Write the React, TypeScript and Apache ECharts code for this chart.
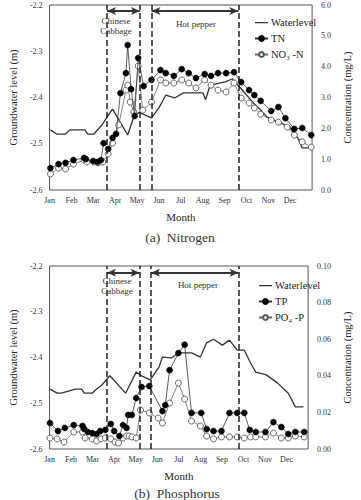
import React, { useEffect, useRef } from "react";
import * as echarts from "echarts";

const FONT = "'Liberation Serif', 'DejaVu Serif', serif";

const monthNames = ["Jan", "Feb", "Mar", "Apr", "May", "Jun", "Jul", "Aug", "Sep", "Oct", "Nov", "Dec"];

// ---- (a) Nitrogen panel: time in months from 1 Jan ----
const waterA_t = [0.04, 0.32, 0.73, 0.93, 1.62, 1.74, 2.03, 2.27, 2.43, 2.63, 2.88, 3.57, 3.85, 4.09, 4.66, 4.99, 5.31, 5.72, 6.12, 7.01, 7.13, 7.34, 8.03, 8.35, 8.72, 9.32, 9.65, 9.93, 10.46, 10.98, 11.35, 11.55, 11.96];
const waterA_v = [-2.47, -2.479, -2.479, -2.47, -2.47, -2.479, -2.479, -2.466, -2.457, -2.442, -2.425, -2.481, -2.442, -2.432, -2.444, -2.423, -2.395, -2.401, -2.39, -2.39, -2.405, -2.373, -2.366, -2.36, -2.379, -2.412, -2.427, -2.442, -2.453, -2.464, -2.488, -2.509, -2.509];

const tn_t = [0.04, 0.41, 0.73, 1.09, 1.58, 1.66, 1.99, 2.19, 2.35, 2.47, 2.68, 2.88, 3.04, 3.24, 3.49, 3.57, 3.73, 3.89, 4.05, 4.3, 4.66, 5.07, 5.31, 5.68, 6.04, 6.36, 6.69, 7.09, 7.38, 7.7, 8.07, 8.43, 8.76, 9.12, 9.36, 9.65, 10.13, 10.46, 10.78, 11.19, 11.55, 11.96];
const tn_v = [0.71, 0.84, 0.88, 0.97, 1.04, 1.0, 0.94, 0.91, 0.97, 1.52, 1.33, 1.69, 1.82, 3.14, 3.79, 4.7, 3.27, 2.4, 4.28, 3.37, 3.57, 3.89, 3.79, 3.7, 3.92, 3.79, 3.63, 3.76, 3.7, 3.79, 3.79, 3.82, 3.5, 3.24, 3.08, 2.89, 2.56, 2.69, 2.33, 1.98, 2.01, 1.78];

const no3_t = [0.04, 0.41, 0.73, 1.09, 1.58, 1.7, 2.03, 2.23, 2.43, 2.68, 2.88, 3.16, 3.49, 3.57, 3.69, 3.85, 4.05, 4.26, 4.66, 5.07, 5.31, 5.68, 6.04, 6.36, 6.69, 7.09, 7.38, 7.7, 8.07, 8.43, 8.76, 9.12, 9.36, 9.65, 10.13, 10.46, 10.86, 11.19, 11.55, 11.96];
const no3_v = [0.52, 0.71, 0.68, 0.84, 0.97, 0.91, 0.91, 0.88, 0.91, 1.17, 1.52, 2.11, 3.24, 3.4, 2.85, 2.53, 4.02, 2.59, 2.85, 3.57, 3.47, 3.47, 3.57, 3.47, 3.31, 3.57, 3.4, 3.24, 3.18, 3.47, 2.98, 2.82, 2.66, 2.46, 2.27, 2.2, 2.04, 1.78, 1.56, 1.39];

// crop periods (start / end, in months)
const cabbageA = [2.63, 4.13];
const pepperA = [4.66, 8.63];

// ---- (b) Phosphorus panel ----
const waterB_t = [0.02, 0.35, 0.55, 1.2, 1.49, 1.61, 1.98, 2.18, 2.43, 2.8, 3.53, 4.02, 4.27, 4.67, 5.08, 5.24, 5.65, 5.98, 6.59, 7.0, 7.29, 7.61, 8.02, 8.35, 8.71, 9.04, 9.33, 9.57, 10.06, 10.59, 11.08, 11.41, 11.78];
const waterB_v = [-2.469, -2.478, -2.478, -2.469, -2.469, -2.478, -2.478, -2.469, -2.46, -2.44, -2.478, -2.432, -2.44, -2.449, -2.421, -2.399, -2.401, -2.39, -2.39, -2.399, -2.368, -2.36, -2.373, -2.362, -2.384, -2.384, -2.412, -2.432, -2.438, -2.456, -2.478, -2.508, -2.508];

const tp_t = [0.02, 0.39, 0.71, 1.12, 1.53, 1.61, 1.78, 1.98, 2.18, 2.35, 2.59, 2.84, 3.0, 3.24, 3.41, 3.57, 3.65, 3.82, 4.02, 4.27, 4.63, 5.24, 5.37, 5.57, 5.98, 6.27, 6.59, 7.04, 7.29, 7.61, 7.98, 8.35, 8.71, 9.04, 9.29, 9.57, 10.02, 10.39, 10.76, 11.08, 11.41, 11.82];
const tp_v = [0.0142, 0.0098, 0.0115, 0.0131, 0.0126, 0.0109, 0.0093, 0.0087, 0.0082, 0.0098, 0.0104, 0.0137, 0.0098, 0.0071, 0.0131, 0.0115, 0.0186, 0.0186, 0.0278, 0.0339, 0.0344, 0.0207, 0.024, 0.0431, 0.0524, 0.057, 0.0197, 0.0197, 0.0109, 0.0098, 0.0098, 0.0197, 0.0197, 0.0197, 0.0104, 0.0093, 0.0093, 0.0147, 0.012, 0.0082, 0.0093, 0.0093];

const po4_t = [0.02, 0.35, 0.67, 1.12, 1.53, 1.65, 1.98, 2.18, 2.39, 2.59, 2.84, 3.04, 3.2, 3.41, 3.57, 3.69, 3.82, 4.02, 4.22, 4.63, 5.04, 5.24, 5.57, 5.98, 6.27, 6.59, 7.0, 7.29, 7.61, 7.98, 8.35, 8.71, 9.04, 9.33, 9.57, 10.02, 10.39, 10.76, 11.08, 11.41, 11.82];
const po4_v = [0.006, 0.0055, 0.0038, 0.0093, 0.0093, 0.006, 0.0055, 0.0044, 0.0055, 0.006, 0.0055, 0.0038, 0.0033, 0.006, 0.0071, 0.0071, 0.0066, 0.006, 0.0213, 0.0197, 0.0169, 0.0142, 0.0251, 0.036, 0.0273, 0.0153, 0.0126, 0.0071, 0.0055, 0.0066, 0.0066, 0.0066, 0.006, 0.0066, 0.0066, 0.0066, 0.0087, 0.006, 0.006, 0.0071, 0.0066];

const cabbageB = [2.67, 4.18];
const pepperB = [4.71, 8.77];

// arrow heights (groundwater-level units) for the crop period brackets
const arrowA = -2.213;
const arrowB = -2.215;

const zip = (t: number[], v: number[]) => t.map((x, i) => [x, v[i]]);

const axisLabelStyle = { fontFamily: FONT, fontSize: 8, color: "#333" };

// thin horizontal stroke used as the level line's legend key
const LEVEL_KEY = "path://M0,2.4h13v1.3h-13zM0,0h0.01v6h-0.01z";

function waterSeries(name: string, gi: number, yi: number, data: number[][], cab: number[], pep: number[], arrowY: number) {
  return {
    name,
    type: "line",
    xAxisIndex: gi,
    yAxisIndex: yi,
    data,
    symbol: "none",
    lineStyle: { color: "#333", width: 1.3 },
    itemStyle: { color: "#333" },
    z: 2,
    markLine: {
      silent: true,
      symbol: ["arrow", "arrow"],
      symbolSize: [6, 9],
      label: { show: false },
      lineStyle: { color: "#333", width: 2, type: "solid" },
      data: [
        [{ coord: [cab[0], arrowY] }, { coord: [cab[1], arrowY] }],
        [{ coord: [pep[0], arrowY] }, { coord: [pep[1], arrowY] }],
      ],
    },
  };
}

function filledSeries(name: string, gi: number, yi: number, data: number[][], cab: number[], pep: number[]) {
  return {
    name,
    type: "line",
    xAxisIndex: gi,
    yAxisIndex: yi,
    data,
    symbol: "circle",
    symbolSize: 6,
    itemStyle: { color: "#000", borderColor: "#000", borderWidth: 0.5 },
    lineStyle: { color: "#333", width: 0.8 },
    z: 4,
    markLine: {
      silent: true,
      symbol: "none",
      label: { show: false },
      lineStyle: { color: "#222", width: 1.5, type: [6, 3] },
      data: [{ xAxis: cab[0] }, { xAxis: cab[1] }, { xAxis: pep[0] }, { xAxis: pep[1] }],
    },
  };
}

function openSeries(name: string, gi: number, yi: number, data: number[][]) {
  return {
    name,
    type: "line",
    xAxisIndex: gi,
    yAxisIndex: yi,
    data,
    symbol: "circle",
    symbolSize: 6,
    itemStyle: { color: "#fff", borderColor: "#555", borderWidth: 0.9 },
    lineStyle: { color: "#666", width: 0.8 },
    z: 3,
  };
}

function xAxisFor(gi: number) {
  return {
    type: "value",
    gridIndex: gi,
    min: 0,
    max: 12,
    interval: 1,
    axisLine: { show: false },
    axisTick: { show: false },
    splitLine: { show: false },
    axisLabel: { ...axisLabelStyle, margin: 6, formatter: (v: number) => monthNames[v] ?? "" },
    name: "Month",
    nameLocation: "middle",
    nameGap: 21,
    nameTextStyle: { fontFamily: FONT, fontSize: 11, color: "#222" },
  };
}

function levelAxis(gi: number) {
  return {
    type: "value",
    gridIndex: gi,
    position: "left",
    min: -2.6,
    max: -2.2,
    interval: 0.1,
    axisLine: { show: false },
    axisTick: { show: false },
    splitLine: { show: false },
    axisLabel: { ...axisLabelStyle, margin: 7, formatter: (v: number) => v.toFixed(1) },
    name: "Groundwater level (m)",
    nameLocation: "middle",
    nameRotate: 90,
    nameGap: 26,
    nameTextStyle: { fontFamily: FONT, fontSize: 10.5, color: "#222" },
  };
}

function concAxis(gi: number, max: number, interval: number, digits: number) {
  return {
    type: "value",
    gridIndex: gi,
    position: "right",
    min: 0,
    max,
    interval,
    axisLine: { show: false },
    axisTick: { show: false },
    splitLine: { show: false },
    axisLabel: { ...axisLabelStyle, margin: 9, formatter: (v: number) => v.toFixed(digits) },
    name: "Concentration (mg/L)",
    nameLocation: "middle",
    nameRotate: 90,
    nameGap: 26,
    nameTextStyle: { fontFamily: FONT, fontSize: 10.5, color: "#222" },
  };
}

function legendFor(names: string[], left: number, top: number) {
  return {
    data: [
      // the level line carries no markers, so its key shows only the line
      { name: names[0], icon: LEVEL_KEY, itemStyle: { color: "#333" } },
      { name: names[1] },
      { name: names[2] },
    ],
    orient: "vertical",
    left,
    top,
    itemWidth: 13,
    itemHeight: 6,
    itemGap: 5,
    selectedMode: false,
    textStyle: { fontFamily: FONT, fontSize: 10.5, color: "#222", padding: [0, 0, 0, -2] },
  };
}

function label(text: string, x: number, y: number, size: number) {
  return {
    type: "text",
    x,
    y,
    style: { text, fontFamily: FONT, fontSize: size, fill: "#333", align: "center", verticalAlign: "middle" },
  };
}

export default function App() {
  const ref = useRef<HTMLDivElement>(null);

  useEffect(() => {
    if (!ref.current) return;
    const chart = echarts.init(ref.current, undefined, { renderer: "svg" });
    const option = {
      animation: false,
      backgroundColor: "#fff",
      textStyle: { fontFamily: FONT },
      grid: [
        { left: 32, top: 5, width: 296, height: 185, show: true, borderColor: "#555", borderWidth: 1 },
        { left: 33.5, top: 266, width: 294, height: 183, show: true, borderColor: "#555", borderWidth: 1 },
      ],
      xAxis: [xAxisFor(0), xAxisFor(1)],
      yAxis: [levelAxis(0), concAxis(0, 6, 1, 1), levelAxis(1), concAxis(1, 0.1, 0.02, 2)],
      legend: [
        legendFor(["Waterlevel", "TN", "NO\u2083 -N"], 249, 12),
        legendFor(["Waterlevel", "TP", "PO\u2084 -P"], 253, 275),
      ],
      series: [
        waterSeries("Waterlevel", 0, 0, zip(waterA_t, waterA_v), cabbageA, pepperA, arrowA),
        filledSeries("TN", 0, 1, zip(tn_t, tn_v), cabbageA, pepperA),
        openSeries("NO\u2083 -N", 0, 1, zip(no3_t, no3_v)),
        waterSeries("Waterlevel", 1, 2, zip(waterB_t, waterB_v), cabbageB, pepperB, arrowB),
        filledSeries("TP", 1, 3, zip(tp_t, tp_v), cabbageB, pepperB),
        openSeries("PO\u2084 -P", 1, 3, zip(po4_t, po4_v)),
      ],
      graphic: [
        label("Chinese", 116, 21, 9),
        label("Cabbage", 116, 31, 9),
        label("Hot pepper", 196, 24, 9),
        label("(a)  Nitrogen", 180, 237, 13.5),
        label("Chinese", 117, 281, 9),
        label("Cabbage", 117, 291, 9),
        label("Hot pepper", 198, 285, 9),
        label("(b)  Phosphorus", 177, 493, 13.5),
      ],
    };
    chart.setOption(option as any);
    return () => chart.dispose();
  }, []);

  return <div ref={ref} style={{ position: "fixed", left: 0, top: 0, width: 361, height: 500 }} />;
}
